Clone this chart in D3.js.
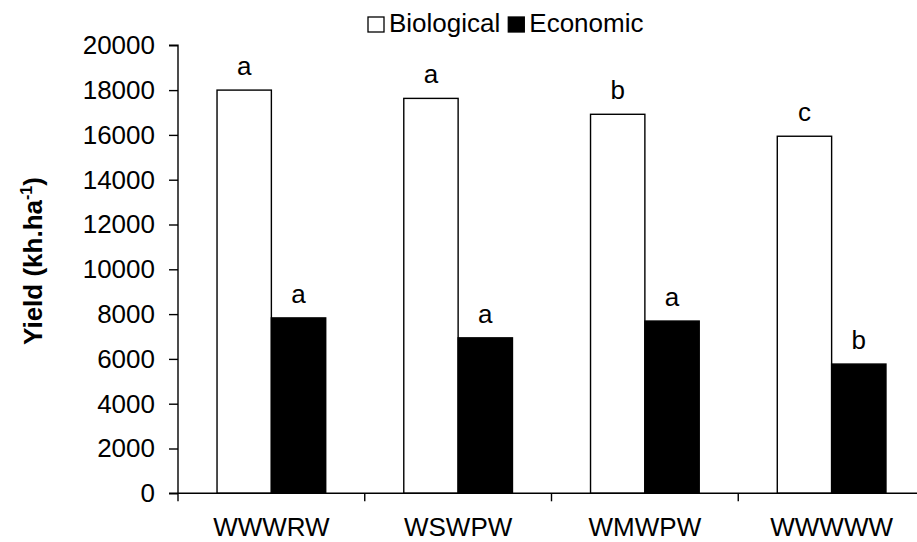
<!DOCTYPE html>
<html>
<head>
<meta charset="utf-8">
<script src="https://cdn.jsdelivr.net/npm/d3@7"></script>
<style>
  html, body { margin: 0; padding: 0; background: #fff; }
  svg { display: block; font-family: "Liberation Sans", Arial, sans-serif; }
</style>
</head>
<body>
<svg id="chart" width="917" height="542"></svg>
<script>
// Crop rotation systems
const categories = ["WWWRW", "WSWPW", "WMWPW", "WWWWW"];
const seriesNames = ["Biological", "Economic"];
const biological = [18000, 17630, 16920, 15940];
const economic = [7830, 6940, 7690, 5770];
const biologicalLetters = ["a", "a", "b", "c"];
const economicLetters = ["a", "a", "a", "b"];
const yTicks = [0, 2000, 4000, 6000, 8000, 10000, 12000, 14000, 16000, 18000, 20000];

const svg = d3.select("#chart");
const plotLeft = 178, plotRight = 925, plotTop = 45.3, plotBottom = 493.3;

const x = d3.scaleBand().domain(categories).range([plotLeft, plotRight]).padding(0);
const barW = x.bandwidth() * 0.291;
const xs = d3.scaleBand().domain(seriesNames)
  .range([x.bandwidth() / 2 - barW, x.bandwidth() / 2 + barW]).padding(0);
const y = d3.scaleLinear().domain([0, 20000]).range([plotBottom, plotTop]);

const rows = categories.map((c, i) => ({
  cat: c,
  vals: [
    { s: "Biological", v: biological[i], lab: biologicalLetters[i] },
    { s: "Economic", v: economic[i], lab: economicLetters[i] }
  ]
}));

const fill = { Biological: "#fff", Economic: "#000" };

// Bars
const g = svg.append("g");
const groups = g.selectAll("g.grp").data(rows).join("g")
  .attr("class", "grp")
  .attr("transform", d => `translate(${x(d.cat)},0)`);

groups.selectAll("rect").data(d => d.vals).join("rect")
  .attr("x", d => xs(d.s))
  .attr("y", d => y(d.v))
  .attr("width", xs.bandwidth())
  .attr("height", d => plotBottom - y(d.v))
  .attr("fill", d => fill[d.s])
  .attr("stroke", "#000")
  .attr("stroke-width", 1.4);

// Significance letters
groups.selectAll("text.sig").data(d => d.vals).join("text")
  .attr("class", "sig")
  .attr("x", d => xs(d.s) + xs.bandwidth() / 2)
  .attr("y", d => y(d.v) - 15)
  .attr("text-anchor", "middle")
  .attr("font-size", 26)
  .attr("fill", "#000")
  .text(d => d.lab);

// Y axis
const yAxis = d3.axisLeft(y).tickValues(yTicks).tickSize(9).tickPadding(14)
  .tickFormat(d3.format("d"));
const yg = svg.append("g").attr("transform", `translate(${plotLeft},0)`).call(yAxis);
yg.select(".domain").attr("stroke", "#000").attr("stroke-width", 1.4)
  .attr("d", `M-9,${plotTop}H0V${plotBottom}H-9`);
yg.selectAll(".tick line").attr("stroke", "#000").attr("stroke-width", 1.4);
yg.selectAll(".tick text").attr("font-size", 26).attr("fill", "#000")
  .attr("font-family", "Liberation Sans, Arial, sans-serif");

// X axis with ticks at category boundaries
const xg = svg.append("g").attr("transform", `translate(0,${plotBottom})`);
xg.append("line").attr("x1", plotLeft).attr("x2", plotRight).attr("y1", 0).attr("y2", 0)
  .attr("stroke", "#000").attr("stroke-width", 1.4);
const boundaries = categories.map(c => x(c)).concat([x(categories[categories.length - 1]) + x.bandwidth()]);
xg.selectAll("line.tk").data(boundaries).join("line")
  .attr("class", "tk")
  .attr("x1", d => d).attr("x2", d => d)
  .attr("y1", 0).attr("y2", 8)
  .attr("stroke", "#000").attr("stroke-width", 1.4);
xg.selectAll("text").data(categories).join("text")
  .attr("x", d => x(d) + x.bandwidth() / 2)
  .attr("y", 43)
  .attr("text-anchor", "middle")
  .attr("font-size", 26)
  .attr("fill", "#000")
  .text(d => d);

// Y axis title
const yt = svg.append("text")
  .attr("transform", "translate(42,261) rotate(-90)")
  .attr("text-anchor", "middle")
  .attr("font-size", 26)
  .attr("font-weight", "bold")
  .attr("fill", "#000");
yt.append("tspan").text("Yield (kh.ha");
yt.append("tspan").attr("font-size", 16).attr("dy", -10).text("-1");
yt.append("tspan").attr("dy", 10).text(")");

// Legend
const legend = svg.append("g").attr("transform", "translate(368,17)");
let lx = 0;
seriesNames.forEach((s, i) => {
  legend.append("rect").attr("x", lx).attr("y", 0).attr("width", 16).attr("height", 15)
    .attr("fill", fill[s]).attr("stroke", "#000").attr("stroke-width", 1.3);
  const t = legend.append("text").attr("x", lx + 21).attr("y", 15)
    .attr("font-size", 26).attr("fill", "#000").text(s);
  lx += 21 + t.node().getComputedTextLength() + 8;
});
</script>
</body>
</html>
